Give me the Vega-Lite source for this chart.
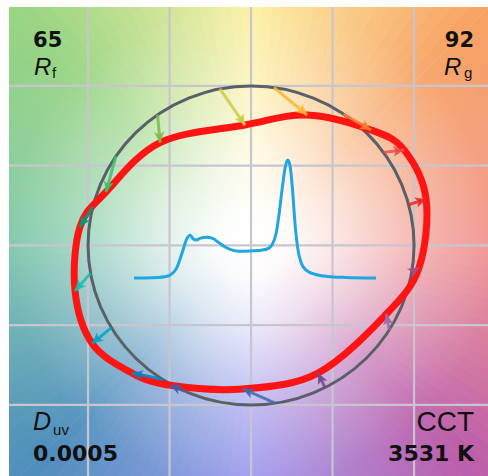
{
  "$schema": "https://vega.github.io/schema/vega-lite/v6.json",
  "width": 479,
  "height": 469,
  "autosize": {"type": "none"},
  "padding": {"left": 9, "top": 7, "right": 0, "bottom": 0},
  "background": "white",
  "config": {"view": {"stroke": null}},
  "datasets": {
    "wheel": [
      {"h": 1.25}, {"h": 3.75}, {"h": 6.25}, {"h": 8.75}, {"h": 11.25}, {"h": 13.75}, {"h": 16.25}, {"h": 18.75}, {"h": 21.25},
      {"h": 23.75}, {"h": 26.25}, {"h": 28.75}, {"h": 31.25}, {"h": 33.75}, {"h": 36.25}, {"h": 38.75}, {"h": 41.25}, {"h": 43.75},
      {"h": 46.25}, {"h": 48.75}, {"h": 51.25}, {"h": 53.75}, {"h": 56.25}, {"h": 58.75}, {"h": 61.25}, {"h": 63.75}, {"h": 66.25},
      {"h": 68.75}, {"h": 71.25}, {"h": 73.75}, {"h": 76.25}, {"h": 78.75}, {"h": 81.25}, {"h": 83.75}, {"h": 86.25}, {"h": 88.75},
      {"h": 91.25}, {"h": 93.75}, {"h": 96.25}, {"h": 98.75}, {"h": 101.25}, {"h": 103.75}, {"h": 106.25}, {"h": 108.75}, {"h": 111.25},
      {"h": 113.75}, {"h": 116.25}, {"h": 118.75}, {"h": 121.25}, {"h": 123.75}, {"h": 126.25}, {"h": 128.75}, {"h": 131.25}, {"h": 133.75},
      {"h": 136.25}, {"h": 138.75}, {"h": 141.25}, {"h": 143.75}, {"h": 146.25}, {"h": 148.75}, {"h": 151.25}, {"h": 153.75}, {"h": 156.25},
      {"h": 158.75}, {"h": 161.25}, {"h": 163.75}, {"h": 166.25}, {"h": 168.75}, {"h": 171.25}, {"h": 173.75}, {"h": 176.25}, {"h": 178.75},
      {"h": 181.25}, {"h": 183.75}, {"h": 186.25}, {"h": 188.75}, {"h": 191.25}, {"h": 193.75}, {"h": 196.25}, {"h": 198.75}, {"h": 201.25},
      {"h": 203.75}, {"h": 206.25}, {"h": 208.75}, {"h": 211.25}, {"h": 213.75}, {"h": 216.25}, {"h": 218.75}, {"h": 221.25}, {"h": 223.75},
      {"h": 226.25}, {"h": 228.75}, {"h": 231.25}, {"h": 233.75}, {"h": 236.25}, {"h": 238.75}, {"h": 241.25}, {"h": 243.75}, {"h": 246.25},
      {"h": 248.75}, {"h": 251.25}, {"h": 253.75}, {"h": 256.25}, {"h": 258.75}, {"h": 261.25}, {"h": 263.75}, {"h": 266.25}, {"h": 268.75},
      {"h": 271.25}, {"h": 273.75}, {"h": 276.25}, {"h": 278.75}, {"h": 281.25}, {"h": 283.75}, {"h": 286.25}, {"h": 288.75}, {"h": 291.25},
      {"h": 293.75}, {"h": 296.25}, {"h": 298.75}, {"h": 301.25}, {"h": 303.75}, {"h": 306.25}, {"h": 308.75}, {"h": 311.25}, {"h": 313.75},
      {"h": 316.25}, {"h": 318.75}, {"h": 321.25}, {"h": 323.75}, {"h": 326.25}, {"h": 328.75}, {"h": 331.25}, {"h": 333.75}, {"h": 336.25},
      {"h": 338.75}, {"h": 341.25}, {"h": 343.75}, {"h": 346.25}, {"h": 348.75}, {"h": 351.25}, {"h": 353.75}, {"h": 356.25}, {"h": 358.75}
    ],
    "grid": [{"v": -1}, {"v": -0.5}, {"v": 0}, {"v": 0.5}, {"v": 1}],
    "ref": [
      {"k": 0, "x": 1, "y": 0},
      {"k": 1, "x": 0.9239, "y": 0.3827},
      {"k": 2, "x": 0.7071, "y": 0.7071},
      {"k": 3, "x": 0.3827, "y": 0.9239},
      {"k": 4, "x": 0, "y": 1},
      {"k": 5, "x": -0.3827, "y": 0.9239},
      {"k": 6, "x": -0.7071, "y": 0.7071},
      {"k": 7, "x": -0.9239, "y": 0.3827},
      {"k": 8, "x": -1, "y": 0},
      {"k": 9, "x": -0.9239, "y": -0.3827},
      {"k": 10, "x": -0.7071, "y": -0.7071},
      {"k": 11, "x": -0.3827, "y": -0.9239},
      {"k": 12, "x": 0, "y": -1},
      {"k": 13, "x": 0.3827, "y": -0.9239},
      {"k": 14, "x": 0.7071, "y": -0.7071},
      {"k": 15, "x": 0.9239, "y": -0.3827}
    ],
    "bins": [
      {"bin": 1, "sx": 0.9668, "sy": 0.2554, "tx": 1.074, "ty": 0.29, "dir": 72.1},
      {"bin": 2, "sx": 0.8121, "sy": 0.5835, "tx": 0.939, "ty": 0.599, "dir": 83.0},
      {"bin": 3, "sx": 0.5664, "sy": 0.8241, "tx": 0.736, "ty": 0.724, "dir": 120.6},
      {"bin": 4, "sx": 0.1409, "sy": 0.99, "tx": 0.344, "ty": 0.818, "dir": 130.3},
      {"bin": 5, "sx": -0.1908, "sy": 0.9816, "tx": -0.037, "ty": 0.755, "dir": 145.8},
      {"bin": 6, "sx": -0.5736, "sy": 0.8192, "tx": -0.558, "ty": 0.645, "dir": 174.9},
      {"bin": 7, "sx": -0.829, "sy": 0.5592, "tx": -0.89, "ty": 0.335, "dir": 195.2},
      {"bin": 8, "sx": -0.9703, "sy": 0.2419, "tx": -1.05, "ty": 0.116, "dir": 212.3},
      {"bin": 9, "sx": -0.9848, "sy": -0.1736, "tx": -1.08, "ty": -0.285, "dir": 220.5},
      {"bin": 10, "sx": -0.8572, "sy": -0.515, "tx": -0.975, "ty": -0.615, "dir": 229.7},
      {"bin": 11, "sx": -0.5446, "sy": -0.8387, "tx": -0.73, "ty": -0.8, "dir": 281.8},
      {"bin": 12, "sx": -0.4067, "sy": -0.9135, "tx": -0.495, "ty": -0.877, "dir": 292.5},
      {"bin": 13, "sx": 0.1478, "sy": -0.989, "tx": -0.05, "ty": -0.9, "dir": 294.2},
      {"bin": 14, "sx": 0.454, "sy": -0.891, "tx": 0.411, "ty": -0.8, "dir": 334.7},
      {"bin": 15, "sx": 0.848, "sy": -0.5299, "tx": 0.83, "ty": -0.43, "dir": 349.8},
      {"bin": 16, "sx": 0.9863, "sy": -0.165, "tx": 1.03, "ty": -0.14, "dir": 60.2}
    ],
    "spd": [
      {"nm": 380, "p": 0}, {"nm": 400, "p": 0.0}, {"nm": 420, "p": 0.004}, {"nm": 430, "p": 0.01},
      {"nm": 440, "p": 0.025}, {"nm": 450, "p": 0.08}, {"nm": 460, "p": 0.22}, {"nm": 467, "p": 0.33},
      {"nm": 473, "p": 0.363}, {"nm": 478, "p": 0.33}, {"nm": 483, "p": 0.322}, {"nm": 490, "p": 0.338},
      {"nm": 500, "p": 0.346}, {"nm": 510, "p": 0.335}, {"nm": 520, "p": 0.3}, {"nm": 530, "p": 0.265},
      {"nm": 540, "p": 0.24}, {"nm": 550, "p": 0.228}, {"nm": 560, "p": 0.226}, {"nm": 570, "p": 0.228},
      {"nm": 580, "p": 0.232}, {"nm": 590, "p": 0.236}, {"nm": 600, "p": 0.246}, {"nm": 608, "p": 0.28},
      {"nm": 615, "p": 0.38}, {"nm": 620, "p": 0.55}, {"nm": 625, "p": 0.76}, {"nm": 630, "p": 0.94},
      {"nm": 634, "p": 1.0}, {"nm": 638, "p": 0.95}, {"nm": 642, "p": 0.75}, {"nm": 646, "p": 0.47},
      {"nm": 651, "p": 0.24}, {"nm": 657, "p": 0.12}, {"nm": 665, "p": 0.065}, {"nm": 680, "p": 0.03},
      {"nm": 700, "p": 0.013}, {"nm": 730, "p": 0.005}, {"nm": 780, "p": 0}
    ]
  },
  "layer": [
    {
      "layer": [
        {
          "data": {"name": "wheel"},
          "mark": {"type": "arc", "radius": 420, "clip": true, "strokeWidth": 0.8},
          "encoding": {
            "x": {"datum": 0, "type": "quantitative", "scale": {"domain": [-1.485, 1.4537], "nice": false, "zero": false},
                  "axis": {"orient": "top", "domain": true, "domainColor": "#151515", "domainWidth": 3, "ticks": false, "labels": false, "grid": false, "title": null, "zindex": 1}},
            "y": {"datum": 0, "type": "quantitative", "scale": {"domain": [-1.4455, 1.495], "nice": false, "zero": false},
                  "axis": {"orient": "left", "domain": true, "domainColor": "#151515", "domainWidth": 3, "ticks": false, "labels": false, "grid": false, "title": null, "zindex": 1}},
            "theta": {"aggregate": "count", "type": "quantitative", "scale": {"range": [1.5708, 7.854]}},
            "order": {"field": "h", "type": "quantitative", "sort": "descending"},
            "fill": {"field": "h", "type": "quantitative", "legend": null,
                     "scale": {"domain": [0, 45, 90, 135, 180, 225, 270, 315, 360],
                               "range": ["#f0928e", "#f7a264", "#fcf0a0", "#98d482", "#7cc6aa", "#4e8ebc", "#9a96ee", "#bc5eaa", "#f0928e"],
                               "interpolate": "rgb"}},
            "stroke": {"field": "h", "type": "quantitative", "legend": null,
                     "scale": {"domain": [0, 45, 90, 135, 180, 225, 270, 315, 360],
                               "range": ["#f0928e", "#f7a264", "#fcf0a0", "#98d482", "#7cc6aa", "#4e8ebc", "#9a96ee", "#bc5eaa", "#f0928e"],
                               "interpolate": "rgb"}}
          }
        },
        {
          "data": {"values": [{}]},
          "mark": {"type": "rect", "clip": true, "strokeWidth": 0,
                   "color": {"gradient": "radial", "x1": 0.5, "y1": 0.5, "r1": 0, "x2": 0.5, "y2": 0.5, "r2": 0.6,
                             "stops": [
                               {"offset": 0, "color": "rgba(255,255,255,1)"},
                               {"offset": 0.12, "color": "rgba(255,255,255,0.96)"},
                               {"offset": 0.28, "color": "rgba(255,255,255,0.78)"},
                               {"offset": 0.56, "color": "rgba(255,255,255,0.36)"},
                               {"offset": 0.83, "color": "rgba(255,255,255,0.06)"},
                               {"offset": 1, "color": "rgba(255,255,255,0)"}
                             ]}},
          "encoding": {
            "x": {"datum": -1.5, "type": "quantitative", "scale": {"domain": [-1.485, 1.4537], "nice": false, "zero": false}, "axis": null},
            "x2": {"datum": 1.5},
            "y": {"datum": -1.5, "type": "quantitative", "scale": {"domain": [-1.4455, 1.495], "nice": false, "zero": false}, "axis": null},
            "y2": {"datum": 1.5}
          }
        },
        {
          "data": {"name": "grid"},
          "mark": {"type": "rule", "color": "#c9c5cf", "strokeWidth": 2.2},
          "encoding": {
            "x": {"field": "v", "type": "quantitative", "scale": {"domain": [-1.485, 1.4537], "nice": false, "zero": false}, "axis": null}
          }
        },
        {
          "data": {"name": "grid"},
          "mark": {"type": "rule", "color": "#c9c5cf", "strokeWidth": 2.2},
          "encoding": {
            "y": {"field": "v", "type": "quantitative", "scale": {"domain": [-1.4455, 1.495], "nice": false, "zero": false}, "axis": null}
          }
        },
        {
          "data": {"name": "ref"},
          "mark": {"type": "line", "interpolate": "cardinal-closed", "color": "#596068", "strokeWidth": 3},
          "encoding": {
            "x": {"field": "x", "type": "quantitative", "scale": {"domain": [-1.485, 1.4537], "nice": false, "zero": false}, "axis": null},
            "y": {"field": "y", "type": "quantitative", "scale": {"domain": [-1.4455, 1.495], "nice": false, "zero": false}, "axis": null},
            "order": {"field": "k", "type": "quantitative"}
          }
        },
        {
          "data": {"name": "bins"},
          "mark": {"type": "line", "interpolate": "cardinal-closed", "color": "#ff1414", "strokeWidth": 7},
          "encoding": {
            "x": {"field": "tx", "type": "quantitative", "scale": {"domain": [-1.485, 1.4537], "nice": false, "zero": false}, "axis": null},
            "y": {"field": "ty", "type": "quantitative", "scale": {"domain": [-1.4455, 1.495], "nice": false, "zero": false}, "axis": null},
            "order": {"field": "bin", "type": "quantitative"}
          }
        },
        {
          "data": {"name": "bins"},
          "mark": {"type": "rule", "strokeWidth": 3, "opacity": 0.85},
          "encoding": {
            "x": {"field": "sx", "type": "quantitative", "scale": {"domain": [-1.485, 1.4537], "nice": false, "zero": false}, "axis": null},
            "y": {"field": "sy", "type": "quantitative", "scale": {"domain": [-1.4455, 1.495], "nice": false, "zero": false}, "axis": null},
            "x2": {"field": "tx"},
            "y2": {"field": "ty"},
            "color": {"field": "bin", "type": "nominal", "legend": null,
                      "scale": {"domain": [1, 2, 3, 4, 5, 6, 7, 8, 9, 10, 11, 12, 13, 14, 15, 16],
                                "range": ["#e62828", "#e74b4b", "#fb812e", "#ffb529", "#cbca46", "#7eb94c", "#41c06d", "#009c7c", "#16bcb0", "#00a4bf", "#0085c3", "#3b62aa", "#4568ae", "#6a4e85", "#9d69a1", "#a74f81"]}}
          }
        },
        {
          "data": {"name": "bins"},
          "mark": {"type": "point", "shape": "M0,0L-0.6,1.25L0,0.95L0.6,1.25Z", "filled": true, "size": 300, "opacity": 0.9},
          "encoding": {
            "x": {"field": "tx", "type": "quantitative", "scale": {"domain": [-1.485, 1.4537], "nice": false, "zero": false}, "axis": null},
            "y": {"field": "ty", "type": "quantitative", "scale": {"domain": [-1.4455, 1.495], "nice": false, "zero": false}, "axis": null},
            "angle": {"field": "dir", "type": "quantitative", "scale": null},
            "color": {"field": "bin", "type": "nominal", "legend": null,
                      "scale": {"domain": [1, 2, 3, 4, 5, 6, 7, 8, 9, 10, 11, 12, 13, 14, 15, 16],
                                "range": ["#e62828", "#e74b4b", "#fb812e", "#ffb529", "#cbca46", "#7eb94c", "#41c06d", "#009c7c", "#16bcb0", "#00a4bf", "#0085c3", "#3b62aa", "#4568ae", "#6a4e85", "#9d69a1", "#a74f81"]}}
          }
        },
        {
          "data": {"values": [{}]},
          "mark": {"type": "text", "text": "65", "align": "left", "baseline": "alphabetic", "font": "DejaVu Sans", "fontWeight": "bold", "fontSize": 21, "color": "#111111"},
          "encoding": {
            "x": {"datum": -1.3374, "type": "quantitative", "scale": {"domain": [-1.485, 1.4537], "nice": false, "zero": false}, "axis": null},
            "y": {"datum": 1.2445, "type": "quantitative", "scale": {"domain": [-1.4455, 1.495], "nice": false, "zero": false}, "axis": null}
          }
        },
        {
          "data": {"values": [{}]},
          "mark": {"type": "text", "text": "R", "align": "left", "baseline": "alphabetic", "font": "Liberation Sans", "fontStyle": "italic", "fontSize": 24, "color": "#111111"},
          "encoding": {
            "x": {"datum": -1.3313, "type": "quantitative", "scale": {"domain": [-1.485, 1.4537], "nice": false, "zero": false}, "axis": null},
            "y": {"datum": 1.0690, "type": "quantitative", "scale": {"domain": [-1.4455, 1.495], "nice": false, "zero": false}, "axis": null}
          }
        },
        {
          "data": {"values": [{}]},
          "mark": {"type": "text", "text": "f", "align": "left", "baseline": "alphabetic", "font": "Liberation Sans", "fontSize": 15, "color": "#111111"},
          "encoding": {
            "x": {"datum": -1.2209, "type": "quantitative", "scale": {"domain": [-1.485, 1.4537], "nice": false, "zero": false}, "axis": null},
            "y": {"datum": 1.0501, "type": "quantitative", "scale": {"domain": [-1.4455, 1.495], "nice": false, "zero": false}, "axis": null}
          }
        },
        {
          "data": {"values": [{}]},
          "mark": {"type": "text", "text": "92", "align": "right", "baseline": "alphabetic", "font": "DejaVu Sans", "fontWeight": "bold", "fontSize": 21, "color": "#111111"},
          "encoding": {
            "x": {"datum": 1.3681, "type": "quantitative", "scale": {"domain": [-1.485, 1.4537], "nice": false, "zero": false}, "axis": null},
            "y": {"datum": 1.2445, "type": "quantitative", "scale": {"domain": [-1.4455, 1.495], "nice": false, "zero": false}, "axis": null}
          }
        },
        {
          "data": {"values": [{}]},
          "mark": {"type": "text", "text": "R", "align": "left", "baseline": "alphabetic", "font": "Liberation Sans", "fontStyle": "italic", "fontSize": 24, "color": "#111111"},
          "encoding": {
            "x": {"datum": 1.184, "type": "quantitative", "scale": {"domain": [-1.485, 1.4537], "nice": false, "zero": false}, "axis": null},
            "y": {"datum": 1.0690, "type": "quantitative", "scale": {"domain": [-1.4455, 1.495], "nice": false, "zero": false}, "axis": null}
          }
        },
        {
          "data": {"values": [{}]},
          "mark": {"type": "text", "text": "g", "align": "left", "baseline": "alphabetic", "font": "Liberation Sans", "fontSize": 15, "color": "#111111"},
          "encoding": {
            "x": {"datum": 1.3067, "type": "quantitative", "scale": {"domain": [-1.485, 1.4537], "nice": false, "zero": false}, "axis": null},
            "y": {"datum": 1.0501, "type": "quantitative", "scale": {"domain": [-1.4455, 1.495], "nice": false, "zero": false}, "axis": null}
          }
        },
        {
          "data": {"values": [{}]},
          "mark": {"type": "text", "text": "D", "align": "left", "baseline": "alphabetic", "font": "Liberation Sans", "fontStyle": "italic", "fontSize": 25, "color": "#111111"},
          "encoding": {
            "x": {"datum": -1.3374, "type": "quantitative", "scale": {"domain": [-1.485, 1.4537], "nice": false, "zero": false}, "axis": null},
            "y": {"datum": -1.1567, "type": "quantitative", "scale": {"domain": [-1.4455, 1.495], "nice": false, "zero": false}, "axis": null}
          }
        },
        {
          "data": {"values": [{}]},
          "mark": {"type": "text", "text": "uv", "align": "left", "baseline": "alphabetic", "font": "Liberation Sans", "fontSize": 15, "color": "#111111"},
          "encoding": {
            "x": {"datum": -1.2147, "type": "quantitative", "scale": {"domain": [-1.485, 1.4537], "nice": false, "zero": false}, "axis": null},
            "y": {"datum": -1.1881, "type": "quantitative", "scale": {"domain": [-1.4455, 1.495], "nice": false, "zero": false}, "axis": null}
          }
        },
        {
          "data": {"values": [{}]},
          "mark": {"type": "text", "text": "0.0005", "align": "left", "baseline": "alphabetic", "font": "DejaVu Sans", "fontWeight": "bold", "fontSize": 22, "color": "#111111"},
          "encoding": {
            "x": {"datum": -1.3374, "type": "quantitative", "scale": {"domain": [-1.485, 1.4537], "nice": false, "zero": false}, "axis": null},
            "y": {"datum": -1.3511, "type": "quantitative", "scale": {"domain": [-1.4455, 1.495], "nice": false, "zero": false}, "axis": null}
          }
        },
        {
          "data": {"values": [{}]},
          "mark": {"type": "text", "text": "CCT", "align": "right", "baseline": "alphabetic", "font": "Liberation Sans", "fontSize": 28, "color": "#111111"},
          "encoding": {
            "x": {"datum": 1.3681, "type": "quantitative", "scale": {"domain": [-1.485, 1.4537], "nice": false, "zero": false}, "axis": null},
            "y": {"datum": -1.163, "type": "quantitative", "scale": {"domain": [-1.4455, 1.495], "nice": false, "zero": false}, "axis": null}
          }
        },
        {
          "data": {"values": [{}]},
          "mark": {"type": "text", "text": "3531 K", "align": "right", "baseline": "alphabetic", "font": "DejaVu Sans", "fontWeight": "bold", "fontSize": 22, "color": "#111111"},
          "encoding": {
            "x": {"datum": 1.3681, "type": "quantitative", "scale": {"domain": [-1.485, 1.4537], "nice": false, "zero": false}, "axis": null},
            "y": {"datum": -1.3511, "type": "quantitative", "scale": {"domain": [-1.4455, 1.495], "nice": false, "zero": false}, "axis": null}
          }
        }
      ]
    },
    {
      "data": {"name": "spd"},
      "mark": {"type": "line", "interpolate": "monotone", "color": "#1ea7e1", "strokeWidth": 3},
      "encoding": {
        "x": {"field": "nm", "type": "quantitative", "scale": {"domain": [173.4, 965.1], "nice": false, "zero": false}, "axis": null},
        "y": {"field": "p", "type": "quantitative", "scale": {"domain": [-1.678, 2.297], "nice": false, "zero": false}, "axis": null}
      }
    }
  ],
  "resolve": {"scale": {"x": "independent", "y": "independent"}}
}
